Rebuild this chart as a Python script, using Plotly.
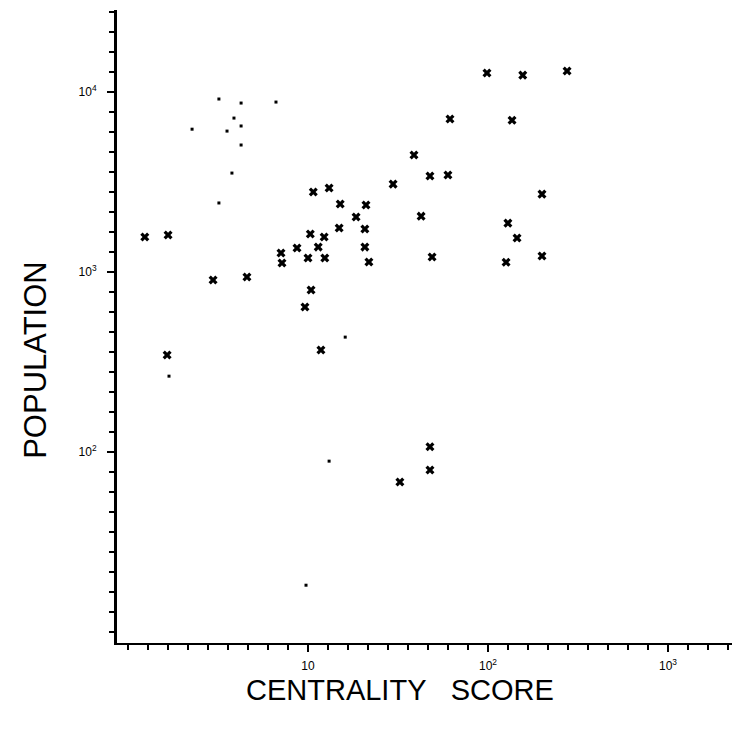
import plotly.graph_objects as go

# Main "x" marked observations (centrality score, population)
centrality = [98.7, 156, 275, 61.5, 136, 38.8, 47.6, 59.9, 29.7, 199.5,
              42.5, 129, 145, 48.9, 126, 199.5, 10.7, 13.1, 15.1, 21.0,
              18.5, 14.9, 20.7, 10.3, 12.3, 8.69, 11.4, 7.08, 7.17, 10.0,
              12.4, 20.7, 21.8, 2.97, 4.58, 10.4, 9.62, 11.8, 47.6, 47.6,
              32.4, 1.24, 1.67, 1.65]
population = [12760, 12420, 13090, 7080, 6980, 4470, 3415, 3460, 3080, 2710,
              2045, 1870, 1545, 1212, 1135, 1228, 2782, 2930, 2387, 2355,
              2022, 1755, 1733, 1626, 1564, 1360, 1376, 1276, 1122, 1197,
              1197, 1376, 1136, 903, 938, 794, 639, 369, 107, 79.4,
              68.1, 1564, 1606, 346]

# Faint small dots
dot_centrality = [1.69, 16.1, 13.1, 9.75, 3.78, 3.2, 4.25, 6.64, 3.88, 4.25,
                  3.55, 4.25, 2.27, 3.2]
dot_population = [264, 435, 89, 18.2, 3548, 9150, 8690, 8800, 7170, 6480,
                  6070, 5080, 6220, 2420]

x_tick_vals = [10, 100, 1000]
x_tick_text = ["10", "10<sup>2</sup>", "10<sup>3</sup>"]
y_tick_vals = [100, 1000, 10000]
y_tick_text = ["10<sup>2</sup>", "10<sup>3</sup>", "10<sup>4</sup>"]

minor_x = [10 ** (k / 9) for k in range(-1, 31)]
minor_y = [10 ** (k / 9) for k in range(8, 41)]

fig = go.Figure()
fig.add_trace(go.Scatter(
    x=dot_centrality, y=dot_population, mode="markers",
    marker=dict(symbol="square", size=3, color="black"),
    showlegend=False, hoverinfo="skip"))
fig.add_trace(go.Scatter(
    x=centrality, y=population, mode="markers",
    marker=dict(symbol="x", size=8, color="black", line=dict(width=0)),
    showlegend=False))

fig.update_layout(
    width=740, height=732,
    margin=dict(l=109, r=8, t=2, b=97),
    paper_bgcolor="white", plot_bgcolor="white",
    font=dict(family="Liberation Sans", color="black"),
    xaxis=dict(
        type="log", range=[-0.061, 3.4], automargin=False,
        showgrid=False, zeroline=False,
        showline=True, linecolor="black", linewidth=2,
        ticks="outside", ticklen=7, tickwidth=1.5, tickcolor="black",
        tickvals=x_tick_vals, ticktext=x_tick_text,
        tickfont=dict(size=12, family="Liberation Sans"),
        ticklabelstandoff=4,
        minor=dict(tickvals=minor_x, ticks="outside", ticklen=5,
                   tickwidth=1.5, tickcolor="black", showgrid=False),
    ),
    yaxis=dict(
        type="log", range=[0.939, 4.456], automargin=False,
        showgrid=False, zeroline=False,
        showline=True, linecolor="black", linewidth=3,
        ticks="outside", ticklen=7, tickwidth=1.5, tickcolor="black",
        tickvals=y_tick_vals, ticktext=y_tick_text,
        tickfont=dict(size=12, family="Liberation Sans"),
        ticklabelstandoff=8,
        minor=dict(tickvals=minor_y, ticks="outside", ticklen=5,
                   tickwidth=1.5, tickcolor="black", showgrid=False),
    ),
    annotations=[
        dict(text="CENTRALITY&nbsp;&nbsp;&nbsp;SCORE", xref="paper", yref="paper",
             x=0.454, y=-0.074, showarrow=False,
             font=dict(size=29, family="Liberation Sans"),
             xanchor="center", yanchor="middle"),
        dict(text="POPULATION", xref="paper", yref="paper",
             x=-0.132, y=0.447, showarrow=False, textangle=-90,
             font=dict(size=31, family="Liberation Sans"),
             xanchor="center", yanchor="middle"),
    ],
)

fig.write_html("out.html")
